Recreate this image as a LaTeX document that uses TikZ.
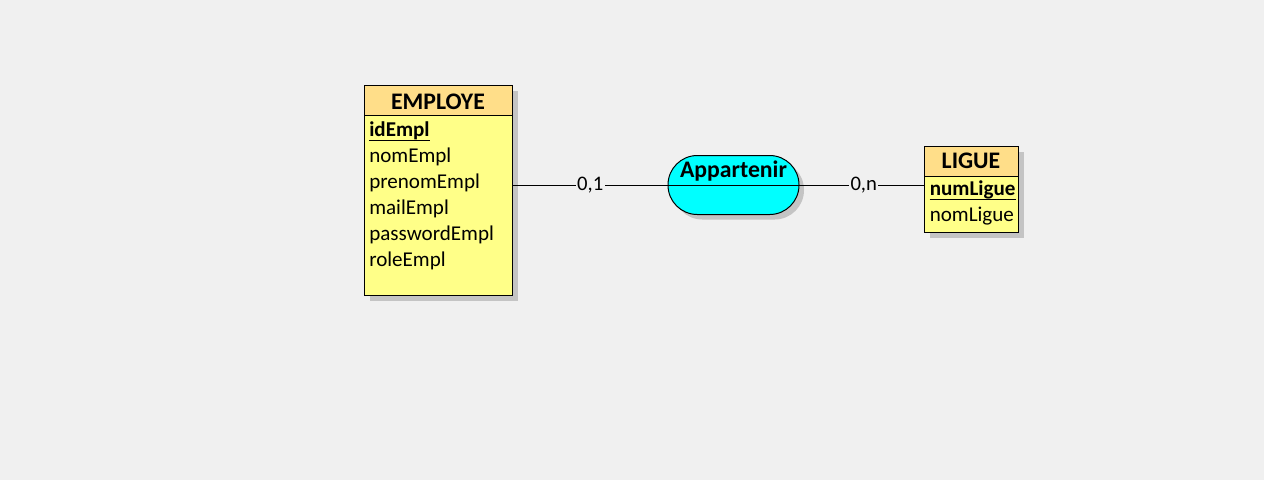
\documentclass[tikz,border=0pt]{standalone}
\usepackage{fontspec}
\setmainfont{Carlito}
\usetikzlibrary{shadows}
\definecolor{bg}{RGB}{240,240,240}
\definecolor{hdr}{RGB}{255,222,137}
\definecolor{body}{RGB}{255,255,136}
\definecolor{assocfill}{RGB}{0,255,255}
\definecolor{shd}{RGB}{196,196,196}
\tikzset{
  shd/.style={drop shadow={shadow xshift=3.75pt, shadow yshift=-3.75pt, fill=shd, opacity=1}},
  entity/.style={draw, line width=0.75pt, fill=body, inner sep=0pt, anchor=north west, shd},
  hdrbox/.style={draw, line width=0.75pt, fill=hdr, inner sep=0pt, anchor=north west},
  assocbox/.style={draw, line width=0.75pt, fill=assocfill, inner sep=0pt, rounded corners=22pt, shd},
  ttl/.style={font=\fontsize{17.8pt}{20pt}\selectfont\bfseries, inner sep=0pt, anchor=base},
  attr/.style={font=\fontsize{15.8pt}{18pt}\selectfont, inner sep=0pt, anchor=base west},
  keyattr/.style={font=\fontsize{15.8pt}{18pt}\selectfont\bfseries, inner sep=0pt, anchor=base west},
  card/.style={font=\fontsize{15.5pt}{18pt}\selectfont, fill=bg, inner sep=1pt},
  link/.style={line width=0.75pt},
}
\begin{document}
\begin{tikzpicture}[x=0.75pt,y=-0.75pt]
\useasboundingbox[fill=bg] (0,0) rectangle (1264,480);
% EMPLOYE
\node[entity, minimum width=111pt, minimum height=157.5pt] (emp) at (364,85) {};
\node[hdrbox, minimum width=111pt, minimum height=22.5pt] (emph) at (emp.north west) {};
\node[ttl] (empt) at (438,109.3) {EMPLOYE};
\node[keyattr] (a1) at (369,136.5) {idEmpl};
\draw[line width=0.75pt] ([yshift=-2.8pt]a1.base west) -- ([yshift=-2.8pt]a1.base east);
\node[attr] (a2) at (369,162.2) {nomEmpl};
\node[attr] (a3) at (369,188.2) {prenomEmpl};
\node[attr] (a4) at (369,214.2) {mailEmpl};
\node[attr] (a5) at (369,240.2) {passwordEmpl};
\node[attr] (a6) at (369,266.2) {roleEmpl};
% Appartenir
\node[assocbox, minimum width=98.25pt, minimum height=44.25pt] (asc) at (733.5,185) {};
\draw[link] (asc.west) -- (asc.east);
\node[ttl] (asct) at (733.5,177.3) {Appartenir};
% LIGUE
\node[entity, minimum width=70.5pt, minimum height=64.5pt] (lig) at (924,146) {};
\node[hdrbox, minimum width=70.5pt, minimum height=22.5pt] (ligh) at (lig.north west) {};
\node[ttl] (ligt) at (971,168.3) {LIGUE};
\node[keyattr] (b1) at (929.5,195) {numLigue};
\draw[line width=0.75pt] ([yshift=-3.5pt]b1.base west) -- ([yshift=-3.5pt]b1.base east);
\node[attr] (b2) at (929.5,221) {nomLigue};
% links
\draw[link] (emp.east |- asc.west) -- node[card]{0,1} (asc.west);
\draw[link] (asc.east) -- node[card, xshift=1.5pt]{0,n} (lig.west |- asc.east);
\end{tikzpicture}
\end{document}
